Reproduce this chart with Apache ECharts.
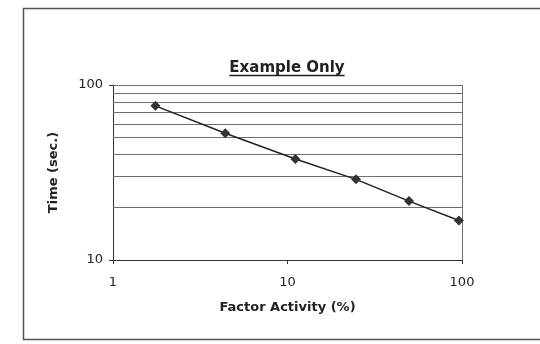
<!DOCTYPE html>
<html>
<head>
<meta charset="utf-8">
<script src="https://cdn.jsdelivr.net/npm/echarts@6/dist/echarts.min.js"></script>
<style>
  html, body { margin: 0; padding: 0; background: #fff; }
  #chart { width: 540px; height: 344px; }
</style>
</head>
<body>
<div id="chart"></div>
<script>
// factor activity (%) vs clotting time (sec.)
const activity = [1.75, 4.4, 11.1, 24.7, 49.7, 96];
const timeSec = [76, 53, 37.8, 28.9, 21.7, 16.8];
// horizontal grid lines of the log y axis
const gridTimes = [20, 30, 40, 50, 60, 70, 80, 90, 100];
const titleText = 'Example Only';

const chart = echarts.init(document.getElementById('chart'));

// measure title width for the underline
const ctx = document.createElement('canvas').getContext('2d');
ctx.font = 'bold 15px "DejaVu Sans"';
const titleW = ctx.measureText(titleText).width;
const titleCx = 287;

const points = activity.map((x, i) => [x, timeSec[i]]);

const option = {
  animation: false,
  backgroundColor: '#fff',
  grid: { left: 113, right: 78, top: 85, bottom: 84 },
  graphic: [
    {
      type: 'rect',
      shape: { x: 23.5, y: 8.5, width: 540, height: 331 },
      style: { fill: 'none', stroke: '#555', lineWidth: 1.5 },
      silent: true
    },
    {
      type: 'text',
      x: titleCx, y: 61,
      style: {
        text: titleText, fill: '#222',
        font: 'bold 15px "DejaVu Sans"',
        textAlign: 'center', textVerticalAlign: 'top'
      }
    },
    {
      type: 'line',
      shape: { x1: titleCx - titleW / 2, y1: 75.5, x2: titleCx + titleW / 2, y2: 75.5 },
      style: { stroke: '#222', lineWidth: 1.3 }
    }
  ],
  xAxis: {
    type: 'log', logBase: 10, min: 1, max: 100,
    name: 'Factor Activity (%)', nameLocation: 'middle', nameGap: 41,
    nameTextStyle: { fontFamily: 'DejaVu Sans', fontWeight: 'bold', fontSize: 13, color: '#222' },
    axisLine: { lineStyle: { color: '#333', width: 1 } },
    axisTick: { show: true, length: 4, lineStyle: { color: '#333' } },
    axisLabel: { fontFamily: 'DejaVu Sans', fontSize: 13, color: '#222', margin: 16 },
    splitLine: { show: false },
    minorTick: { show: false }
  },
  yAxis: {
    type: 'log', logBase: 10, min: 10, max: 100,
    name: 'Time (sec.)', nameLocation: 'middle', nameGap: 53,
    nameTextStyle: { fontFamily: 'DejaVu Sans', fontWeight: 'bold', fontSize: 13, color: '#222' },
    axisLine: { show: true, lineStyle: { color: '#333', width: 1 } },
    axisTick: { show: true, length: 4, lineStyle: { color: '#333' } },
    axisLabel: { fontFamily: 'DejaVu Sans', fontSize: 13, color: '#222', margin: 10 },
    splitLine: { show: false }
  },
  series: [
    {
      type: 'line',
      data: points,
      symbol: 'diamond',
      symbolSize: 10,
      showSymbol: true,
      lineStyle: { color: '#222', width: 1.5 },
      itemStyle: { color: '#333' },
      z: 5,
      markLine: {
        silent: true,
        symbol: 'none',
        label: { show: false },
        lineStyle: { color: '#6f6f6f', width: 1, type: 'solid' },
        data: gridTimes.map(v => ({ yAxis: v })).concat([{ xAxis: 100 }])
      }
    }
  ]
};
chart.setOption(option);
</script>
</body>
</html>
